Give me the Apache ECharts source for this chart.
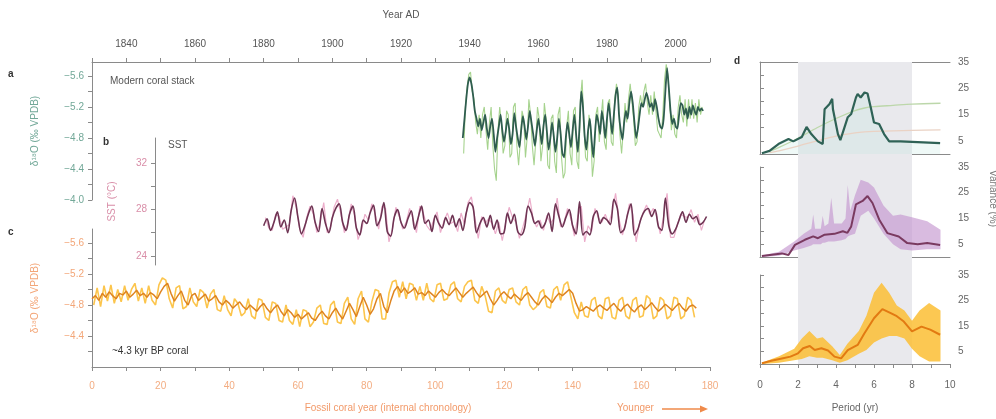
<!DOCTYPE html>
<html><head><meta charset="utf-8">
<script src="https://cdn.jsdelivr.net/npm/echarts@6/dist/echarts.min.js"></script>
<style>html,body{margin:0;padding:0;background:#fff}#c{width:996px;height:419px}</style>
</head><body><div id="c"></div>
<script>
// ---------- DATA ----------
// Panel a: modern coral stack d18O (Year AD), half-year steps
const aStart = 1938, aStep = 0.5;
const aSmooth = [-4.80,-5.05,-5.30,-5.50,-5.58,-5.50,-5.35,-5.15,-5.05,-4.95,-5.05,-4.90,-5.00,-5.10,-4.92,-4.80,-4.95,-5.05,-4.85,-4.62,
-4.80,-4.95,-5.10,-4.90,-4.75,-4.88,-5.05,-4.92,-4.72,-4.85,-5.12,-4.95,-4.80,-4.68,-4.90,-5.08,-4.95,-4.78,-4.95,-5.15,
-5.00,-4.85,-4.70,-4.88,-5.05,-4.90,-4.72,-4.95,-5.10,-4.88,-4.65,-4.80,-5.00,-4.82,-4.62,-4.80,-5.05,-4.85,-4.60,-4.55,
-4.80,-5.00,-4.85,-4.68,-4.90,-5.10,-4.85,-4.62,-4.95,-5.40,-5.20,-4.82,-4.65,-4.90,-5.05,-4.78,-4.55,-4.85,-5.10,-5.00,
-4.85,-5.15,-5.00,-4.80,-5.05,-5.25,-5.05,-4.85,-5.10,-5.35,-5.45,-5.10,-4.90,-4.78,-5.00,-5.15,-5.05,-5.25,-5.40,-5.25,
-5.00,-4.80,-4.92,-5.10,-5.25,-5.20,-5.30,-5.38,-5.30,-5.20,-5.25,-5.15,-5.30,-5.20,-5.05,-4.95,-4.92,-5.05,-5.40,-5.70,
-5.45,-5.15,-4.98,-5.05,-4.95,-4.92,-5.10,-5.25,-5.22,-5.10,-5.18,-5.05,-5.20,-5.10,-5.22,-5.15,-5.10,-5.20,-5.15,-5.18,-5.15];
const aRawStart = 1938.25;
const aRaw = [-4.60,-5.20,-5.45,-5.62,-5.65,-5.40,-5.30,-5.00,-4.85,-5.10,-4.80,-5.10,-5.20,-4.90,-4.65,-5.00,-5.20,-4.70,-4.40,-4.25,
-4.90,-5.20,-5.00,-4.60,-4.70,-5.15,-5.10,-4.55,-4.60,-5.20,-5.25,-4.70,-4.45,-4.75,-5.15,-5.05,-4.55,-4.80,-5.30,-5.10,
-4.70,-4.45,-4.75,-5.20,-5.05,-4.50,-4.70,-5.25,-5.05,-4.45,-4.40,-5.05,-5.10,-4.50,-4.35,-5.10,-5.20,-4.55,-4.28,-4.35,
-4.95,-5.15,-4.60,-4.45,-5.15,-5.20,-4.50,-4.40,-5.30,-5.55,-5.00,-4.55,-4.50,-5.10,-4.90,-4.30,-4.50,-5.10,-5.20,-4.75,
-5.05,-5.30,-4.75,-4.65,-5.25,-5.30,-4.75,-4.70,-5.30,-5.50,-5.35,-4.85,-4.60,-4.90,-5.25,-5.00,-5.30,-5.50,-5.50,-5.05,
-4.70,-4.75,-5.20,-5.35,-5.20,-5.40,-5.50,-5.25,-5.10,-5.35,-5.10,-5.40,-5.15,-4.90,-4.85,-4.80,-5.10,-5.55,-5.75,-5.60,
-5.25,-4.90,-5.10,-4.85,-4.80,-5.20,-5.35,-5.10,-5.00,-5.30,-4.95,-5.30,-5.05,-5.30,-5.05,-5.25,-5.00,-5.30,-5.10,-5.20];
// Panel b: SST (deg C), yearly
const bStart = 1880, bStep = 1;
const bSmooth = [26.6,27.2,26.2,26.9,27.8,26.5,27.1,26.0,27.9,29.0,
27.3,25.9,26.6,27.6,28.3,26.9,26.1,28.1,26.8,26.0,
27.3,28.1,28.5,26.9,26.2,27.6,28.3,26.4,25.8,27.1,
26.8,27.7,28.4,26.6,27.2,28.6,26.1,25.7,27.3,28.0,
26.9,26.4,27.2,27.9,26.3,27.3,28.3,26.8,27.1,26.1,
27.5,26.8,26.4,27.3,26.7,27.5,26.5,27.2,26.2,27.7,
28.6,28.2,26.0,26.8,27.3,26.5,27.5,26.3,27.1,25.9,
26.0,27.7,26.8,27.6,26.1,25.8,26.4,28.3,27.7,26.8,
27.0,26.4,26.8,27.7,26.1,28.5,27.4,26.5,27.3,28.0,
26.6,25.9,28.7,25.8,26.1,25.8,27.4,27.9,26.8,27.3,
27.1,26.7,28.9,28.1,26.0,26.3,27.6,28.5,25.8,26.3,
27.3,27.9,28.1,27.4,28.0,26.5,26.2,29.0,26.6,25.9,
26.3,27.1,27.8,26.9,27.6,27.2,27.4,26.7,26.9,27.4];
const bRawStart = 1880.5;
const bRaw = [27.3,26.4,26.2,27.6,27.4,26.3,26.5,26.7,29.2,28.2,
26.3,25.6,27.3,28.3,27.6,26.0,27.0,28.6,26.0,26.5,
28.2,28.9,27.6,26.0,26.8,28.5,27.5,25.4,26.2,27.6,
27.1,28.5,27.6,26.3,28.3,28.1,25.2,26.3,28.2,27.4,
26.3,26.9,28.1,27.2,26.0,28.3,27.7,26.6,26.2,27.1,
27.8,26.0,27.0,27.7,26.8,27.0,26.1,27.7,26.7,28.6,
29.1,27.3,25.5,27.4,26.8,27.2,26.8,25.9,26.9,25.3,
26.9,28.2,27.3,26.9,25.5,26.5,27.6,29.0,27.2,26.5,
27.1,26.2,27.5,26.8,27.2,29.0,26.5,26.9,28.1,27.2,
25.7,27.4,28.3,25.2,26.6,26.1,28.1,27.3,26.9,27.6,
26.8,27.8,29.4,27.2,25.8,26.9,28.5,27.6,25.2,26.9,
27.7,28.4,27.6,28.1,27.4,25.9,27.4,29.4,25.6,25.6,
26.7,27.6,27.4,27.3,28.0,26.9,27.6,26.2,27.2];
// Panel c: ~4.3 kyr BP fossil coral d18O (fossil coral year)
const cStart = 0, cStep = 1;
const cSmooth = [-4.88,-4.92,-4.86,-4.95,-4.90,-4.97,-4.92,-4.88,-4.95,-4.93,
-4.98,-4.90,-4.94,-4.99,-4.92,-4.95,-4.90,-4.96,-4.93,-4.88,
-4.97,-5.04,-5.08,-4.95,-4.85,-4.92,-4.98,-4.86,-4.80,-4.92,
-4.95,-4.86,-4.90,-4.94,-4.85,-4.88,-4.92,-4.84,-4.80,-4.86,
-4.82,-4.76,-4.80,-4.84,-4.78,-4.74,-4.80,-4.76,-4.72,-4.78,
-4.82,-4.75,-4.70,-4.76,-4.80,-4.72,-4.66,-4.74,-4.70,-4.64,
-4.68,-4.62,-4.66,-4.70,-4.63,-4.60,-4.67,-4.72,-4.66,-4.62,
-4.70,-4.76,-4.68,-4.62,-4.72,-4.82,-4.74,-4.65,-4.78,-4.90,
-4.80,-4.68,-4.75,-4.88,-4.95,-4.78,-4.70,-4.85,-4.98,-5.04,
-4.96,-5.02,-4.95,-4.98,-5.02,-4.94,-4.96,-4.92,-4.98,-4.94,
-4.90,-4.96,-5.00,-4.95,-4.92,-4.97,-5.02,-4.96,-4.90,-4.95,
-4.99,-5.03,-4.96,-4.90,-4.94,-4.98,-4.88,-4.80,-4.86,-4.93,
-4.97,-4.92,-4.88,-4.94,-4.90,-4.86,-4.92,-4.96,-4.90,-4.84,
-4.80,-4.87,-4.92,-4.88,-4.83,-4.90,-4.95,-4.92,-4.96,-5.00,
-4.95,-4.82,-4.72,-4.74,-4.78,-4.75,-4.72,-4.77,-4.80,-4.76,
-4.73,-4.78,-4.82,-4.76,-4.72,-4.78,-4.81,-4.75,-4.71,-4.77,
-4.80,-4.74,-4.78,-4.83,-4.77,-4.72,-4.76,-4.81,-4.77,-4.73,
-4.78,-4.82,-4.76,-4.72,-4.78,-4.80,-4.76];
const cRawStart = 0.5;
const cRaw = [-4.80,-5.02,-4.78,-5.05,-4.85,-5.06,-4.82,-5.00,-4.84,-5.05,
-4.86,-5.00,-5.08,-4.85,-5.02,-4.82,-5.05,-4.86,-4.80,-5.06,
-5.15,-5.12,-4.88,-4.76,-5.02,-5.05,-4.75,-4.78,-5.02,-4.84,
-4.78,-5.00,-4.96,-4.76,-4.94,-5.00,-4.74,-4.72,-4.92,-4.74,
-4.66,-4.88,-4.82,-4.66,-4.70,-4.88,-4.66,-4.62,-4.88,-4.86,
-4.64,-4.60,-4.84,-4.82,-4.60,-4.58,-4.80,-4.60,-4.55,-4.74,
-4.52,-4.74,-4.72,-4.52,-4.58,-4.76,-4.80,-4.56,-4.55,-4.80,
-4.85,-4.58,-4.56,-4.82,-4.90,-4.62,-4.55,-4.88,-4.98,-4.62,
-4.58,-4.84,-5.00,-4.98,-4.62,-4.62,-4.95,-5.10,-5.12,-4.90,
-5.10,-4.88,-5.08,-5.06,-4.86,-5.04,-4.86,-5.08,-4.88,-4.84,
-5.06,-5.08,-4.86,-4.88,-5.06,-5.10,-4.88,-4.84,-5.04,-5.10,
-5.12,-4.86,-4.82,-5.04,-4.92,-4.72,-4.70,-4.98,-5.02,-4.86,
-4.82,-5.00,-5.02,-4.84,-4.80,-5.00,-5.04,-4.80,-4.74,-4.78,
-4.96,-5.00,-4.78,-4.76,-5.00,-5.04,-4.86,-5.06,-5.10,-4.90,
-4.70,-4.62,-4.84,-4.66,-4.64,-4.86,-4.90,-4.66,-4.62,-4.88,
-4.90,-4.64,-4.62,-4.86,-4.90,-4.66,-4.62,-4.86,-4.90,-4.64,
-4.66,-4.92,-4.88,-4.62,-4.66,-4.90,-4.86,-4.62,-4.66,-4.90,
-4.88,-4.62,-4.66,-4.90,-4.86,-4.64];
// Panel d: spectra (period in yr, power)
const d1Period = [0.1,0.5,0.97,1.5,1.75,2.2,2.45,2.7,3.05,3.3,3.4,3.66,3.8,3.84,4.1,4.23,4.62,4.8,5.05,5.14,5.3,5.5,5.66,5.83,6.0,6.27,6.53,6.8,7.4,9.48];
const d1Power  = [0.3,1.2,3.8,5.7,4.8,6.5,10.3,7.6,4.8,3.8,17,19,21,17,7.6,5.3,14,15.2,21.5,22.8,21.5,23.4,23,17.7,12,11.4,7.6,4.8,4.8,4.1];
const d1SigPeriod = [0.5,1,2,3,4,5,5.5,6,7,8,9.5];
const d1Sig95 = [1,2.5,6,10,13.5,16.5,17.5,18,18.5,19,19.3];
const d1Sig90 = [0.5,1.2,3,5,6.8,8,8.4,8.6,8.8,9,9.2];
const d2Period = [0.1,1.15,1.5,1.84,2.36,2.8,3.05,3.4,3.92,4.36,4.6,4.8,5.05,5.4,5.66,5.92,6.27,6.7,7.3,7.75,8.3,8.8,9.48];
const d2Power  = [0.4,1.4,0.8,4.7,6.7,8,7.3,8.7,9,10,9.4,11.9,20.5,21.8,23.7,21,14.6,9.3,8,5.4,5,5.4,4.7];
const d2BandPeriod = [0.1,1.0,1.8,2.3,2.5,2.7,2.8,2.9,3.2,3.3,3.4,3.6,3.75,3.9,4.3,4.5,4.62,4.75,5.0,5.3,5.7,6.0,6.5,7.0,7.4,8.0,8.8,9.5];
const d2Upper = [0.6,2,6,9,10,11,16.5,11,11,16,12,13,23,13,13,15,28,18,24,30,29,27,20,16,16.5,15.5,13.9,10.6];
const d2Lower = [0,0.5,2.5,3.5,4,4.5,5,5,5,5.5,5.5,6,6,6,6.5,7,8,8.5,9,16,18,15,9,5,3,2.5,3,3];
const d3Period = [0.1,0.6,1.15,1.6,2.0,2.27,2.62,2.88,3.23,3.58,3.92,4.27,4.62,5.14,5.49,6.0,6.44,6.88,7.2,7.57,8.0,8.5,8.96,9.48];
const d3Power  = [0.3,1.3,2.2,2.9,4.2,6.2,7.1,5.5,6.2,5.3,2.9,2.2,5.5,7.5,12,18,21.6,20,18.8,16.7,12.8,14.7,13.5,11.5];
const d3BandPeriod = [0.1,1.0,1.8,2.2,2.6,3.0,3.3,3.8,4.2,4.6,5.2,5.6,6.0,6.4,6.8,7.2,7.6,8.0,8.4,8.9,9.5];
const d3Upper = [0.5,3,6,10,13,10,10.5,7,3.5,8,13,19,28,32,28,23,21,17,21,24,21];
const d3Lower = [0,0.5,1.5,2,3,2.5,2.5,1.5,0.5,1.5,4,5.5,8.5,10,11,11,10,6,3,1,1];
const shadeRange = [2, 8];
// Tick labels
const yearTicks = [1840,1860,1880,1900,1920,1940,1960,1980,2000];
const yearMinor = [1830,1840,1850,1860,1870,1880,1890,1900,1910,1920,1930,1940,1950,1960,1970,1980,1990,2000,2010];
const fossilTicks = [0,20,40,60,80,100,120,140,160,180];
const fossilMinor = [0,10,20,30,40,50,60,70,80,90,100,110,120,130,140,150,160,170,180];
const aLabels = [-5.6,-5.2,-4.8,-4.4,-4.0];
const aTicks = [-5.6,-5.4,-5.2,-5.0,-4.8,-4.6,-4.4,-4.2,-4.0];
const cLabels = [-5.6,-5.2,-4.8,-4.4];
const cTicks = [-5.6,-5.4,-5.2,-5.0,-4.8,-4.6,-4.4,-4.2];
const sstLabels = [24,28,32];
const sstTicks = [24,26,28,30,32];
const powLabels = [5,15,25,35];
const powTicks = [0,5,10,15,20,25,30,35];
const periodTicks = [0,2,4,6,8,10];
const periodMinor = [0,1,2,3,4,5,6,7,8,9,10];

// ---------- helpers ----------
const FONT = 'Liberation Sans, Arial, sans-serif';
const seq = (start, step, arr) => arr.map((v, i) => [start + i * step, v]);
const pairs = (xs, ys) => xs.map((x, i) => [x, ys[i]]);
const minus = v => (v < 0 ? '\u2212' : '') + Math.abs(v).toFixed(1);
const axisLineGrey = { lineStyle: { color: '#8a8a8a', width: 1 } };

function bandSeries(xi, yi, periods, upper, lower, color) {
  return {
    type: 'custom', xAxisIndex: xi, yAxisIndex: yi, silent: true, z: 1,
    data: periods.map((p, i) => [p, lower[i], upper[i]]),
    encode: { x: 0, y: [1, 2] },
    renderItem: (params, api) => {
      if (params.dataIndex !== 0) return null;
      const top = periods.map((p, i) => api.coord([p, upper[i]]));
      const bot = periods.map((p, i) => api.coord([p, lower[i]])).reverse();
      return { type: 'polygon', shape: { points: top.concat(bot) }, style: { fill: color } };
    }
  };
}

const chart = echarts.init(document.getElementById('c'), null, { renderer: 'canvas' });

const option = {
  animation: false,
  backgroundColor: '#ffffff',
  textStyle: { fontFamily: FONT },
  grid: [
    { left: 92, top: 62, width: 618, height: 138 },   // a
    { left: 92, top: 138, width: 618, height: 127 },  // b
    { left: 92, top: 229, width: 618, height: 138 },  // c
    { left: 760, top: 62, width: 190, height: 92 },   // d1
    { left: 760, top: 167, width: 190, height: 90 },  // d2
    { left: 760, top: 275, width: 190, height: 89 },  // d3
    { left: 760, top: 62, width: 190, height: 302 }   // shade
  ],
  xAxis: [
    { gridIndex: 0, type: 'value', position: 'top', min: 1830, max: 2010,
      axisLine: axisLineGrey, splitLine: { show: false },
      axisTick: { customValues: yearMinor, length: 4, lineStyle: { color: '#8a8a8a' } },
      axisLabel: { customValues: yearTicks, formatter: v => String(v), color: '#555', fontSize: 10, margin: 13, fontFamily: FONT },
      name: 'Year AD', nameLocation: 'middle', nameGap: 42,
      nameTextStyle: { color: '#555', fontSize: 10, fontFamily: FONT } },
    { gridIndex: 1, type: 'value', min: 1830, max: 2010, show: false },
    { gridIndex: 2, type: 'value', position: 'bottom', min: 0, max: 180,
      axisLine: axisLineGrey, splitLine: { show: false },
      axisTick: { customValues: fossilMinor, length: 4, lineStyle: { color: '#8a8a8a' } },
      axisLabel: { customValues: fossilTicks, formatter: v => String(v), color: '#f3ad82', fontSize: 10, margin: 14, fontFamily: FONT } },
    { gridIndex: 3, type: 'value', min: 0, max: 10, position: 'bottom',
      axisLine: axisLineGrey, axisTick: { show: false }, axisLabel: { show: false }, splitLine: { show: false } },
    { gridIndex: 3, type: 'value', min: 0, max: 10, position: 'top',
      axisLine: axisLineGrey, axisTick: { show: false }, axisLabel: { show: false }, splitLine: { show: false } },
    { gridIndex: 4, type: 'value', min: 0, max: 10, position: 'bottom',
      axisLine: axisLineGrey, axisTick: { show: false }, axisLabel: { show: false }, splitLine: { show: false } },
    { gridIndex: 5, type: 'value', min: 0, max: 10, position: 'bottom',
      axisLine: axisLineGrey, splitLine: { show: false },
      axisTick: { customValues: periodMinor, length: 4, lineStyle: { color: '#8a8a8a' } },
      axisLabel: { customValues: periodTicks, color: '#666', fontSize: 10, margin: 16, fontFamily: FONT } },
    { gridIndex: 6, type: 'value', min: 0, max: 10, show: false }
  ],
  yAxis: [
    { gridIndex: 0, type: 'value', inverse: true, min: -5.78, max: -4.0, position: 'left',
      axisLine: { show: true, lineStyle: { color: '#8a8a8a' } }, splitLine: { show: false },
      axisTick: { show: true, customValues: aTicks, length: 4, lineStyle: { color: '#8a8a8a' } },
      axisLabel: { customValues: aLabels, formatter: minus, color: '#72a898', fontSize: 10, margin: 8, fontFamily: FONT },
      name: '\u03b4\u00b9\u2078O (\u2030 VPDB)', nameLocation: 'middle', nameGap: 52, nameRotate: 90,
      nameTextStyle: { color: '#72a898', fontSize: 10, fontFamily: FONT } },
    { gridIndex: 1, type: 'value', min: 23.2, max: 34.2, position: 'left', offset: -63,
      axisLine: { show: true, lineStyle: { color: '#8a8a8a' } }, splitLine: { show: false },
      axisTick: { show: true, customValues: sstTicks, length: 4, lineStyle: { color: '#8a8a8a' } },
      axisLabel: { customValues: sstLabels, color: '#d98ea8', fontSize: 10, margin: 8, fontFamily: FONT },
      name: 'SST (\u00b0C)', nameLocation: 'middle', nameGap: 38, nameRotate: 90,
      nameTextStyle: { color: '#d98ea8', fontSize: 10, fontFamily: FONT } },
    { gridIndex: 2, type: 'value', inverse: true, min: -5.78, max: -4.0, position: 'left',
      axisLine: { show: true, lineStyle: { color: '#8a8a8a' } }, splitLine: { show: false },
      axisTick: { show: true, customValues: cTicks, length: 4, lineStyle: { color: '#8a8a8a' } },
      axisLabel: { customValues: cLabels, formatter: minus, color: '#f3a678', fontSize: 10, margin: 8, fontFamily: FONT },
      name: '\u03b4\u00b9\u2078O (\u2030 VPDB)', nameLocation: 'middle', nameGap: 52, nameRotate: 90,
      nameTextStyle: { color: '#f3a678', fontSize: 10, fontFamily: FONT } },
    { gridIndex: 3, type: 'value', min: 0, max: 35, position: 'right',
      axisLine: { show: true, lineStyle: { color: '#8a8a8a' } }, splitLine: { show: false },
      axisTick: { show: true, customValues: powTicks, length: 4, lineStyle: { color: '#8a8a8a' } },
      axisLabel: { customValues: powLabels, color: '#666', fontSize: 10, margin: 8, fontFamily: FONT } },
    { gridIndex: 4, type: 'value', min: 0, max: 35, position: 'right',
      axisLine: { show: true, lineStyle: { color: '#8a8a8a' } }, splitLine: { show: false },
      axisTick: { show: true, customValues: powTicks, length: 4, lineStyle: { color: '#8a8a8a' } },
      axisLabel: { customValues: powLabels, color: '#666', fontSize: 10, margin: 8, fontFamily: FONT } },
    { gridIndex: 5, type: 'value', min: 0, max: 35, position: 'right',
      axisLine: { show: true, lineStyle: { color: '#8a8a8a' } }, splitLine: { show: false },
      axisTick: { show: true, customValues: powTicks, length: 4, lineStyle: { color: '#8a8a8a' } },
      axisLabel: { customValues: powLabels, color: '#666', fontSize: 10, margin: 8, fontFamily: FONT } },
    { gridIndex: 6, type: 'value', min: 0, max: 1, show: false }
  ],
  series: [
    // shaded band in panel d
    { type: 'line', xAxisIndex: 7, yAxisIndex: 6, data: [[0, 0]], symbol: 'none', z: 0,
      lineStyle: { opacity: 0 }, silent: true,
      markArea: { silent: true, itemStyle: { color: '#e9e9ed' },
        data: [[{ xAxis: shadeRange[0] }, { xAxis: shadeRange[1] }]] } },
    // a
    { type: 'line', xAxisIndex: 0, yAxisIndex: 0, data: seq(aRawStart, aStep, aRaw), symbol: 'none',
      lineStyle: { color: '#a6d38e', width: 1.1 } },
    { type: 'line', xAxisIndex: 0, yAxisIndex: 0, data: seq(aStart, aStep, aSmooth), symbol: 'none', smooth: 0.2,
      lineStyle: { color: '#2f5d4f', width: 1.8 } },
    // b
    { type: 'line', xAxisIndex: 1, yAxisIndex: 1, data: seq(bRawStart, bStep, bRaw), symbol: 'none',
      lineStyle: { color: '#ecaecb', width: 1.2 } },
    { type: 'line', xAxisIndex: 1, yAxisIndex: 1, data: seq(bStart, bStep, bSmooth), symbol: 'none', smooth: 0.3,
      lineStyle: { color: '#6e3453', width: 1.6 } },
    // c
    { type: 'line', xAxisIndex: 2, yAxisIndex: 2, data: seq(cRawStart, cStep, cRaw), symbol: 'none',
      lineStyle: { color: '#fcc54c', width: 1.6 } },
    { type: 'line', xAxisIndex: 2, yAxisIndex: 2, data: seq(cStart, cStep, cSmooth), symbol: 'none',
      lineStyle: { color: '#de8420', width: 1.5 } },
    // d1
    { type: 'line', xAxisIndex: 3, yAxisIndex: 3, data: pairs(d1SigPeriod, d1Sig95), symbol: 'none', smooth: 0.3,
      lineStyle: { color: '#bcd7aa', width: 1.3 } },
    { type: 'line', xAxisIndex: 3, yAxisIndex: 3, data: pairs(d1SigPeriod, d1Sig90), symbol: 'none', smooth: 0.3,
      lineStyle: { color: '#ead2c4', width: 1.3 } },
    { type: 'line', xAxisIndex: 3, yAxisIndex: 3, data: pairs(d1Period, d1Power), symbol: 'none',
      lineStyle: { color: '#2f6256', width: 2.2 }, areaStyle: { color: 'rgba(190,230,222,0.35)' } },
    // d2
    bandSeries(5, 4, d2BandPeriod, d2Upper, d2Lower, 'rgba(196,150,208,0.65)'),
    { type: 'line', xAxisIndex: 5, yAxisIndex: 4, data: pairs(d2Period, d2Power), symbol: 'none', z: 3,
      lineStyle: { color: '#7a3a60', width: 2 } },
    // d3
    bandSeries(6, 5, d3BandPeriod, d3Upper, d3Lower, 'rgba(251,190,52,0.85)'),
    { type: 'line', xAxisIndex: 6, yAxisIndex: 5, data: pairs(d3Period, d3Power), symbol: 'none', z: 3,
      lineStyle: { color: '#e27a12', width: 2 } }
  ],
  graphic: [
    { type: 'text', left: 8, top: 69, style: { text: 'a', font: 'bold 10px ' + FONT, fill: '#333' } },
    { type: 'text', left: 103, top: 137, style: { text: 'b', font: 'bold 10px ' + FONT, fill: '#333' } },
    { type: 'text', left: 8, top: 227, style: { text: 'c', font: 'bold 10px ' + FONT, fill: '#333' } },
    { type: 'text', left: 734, top: 56, style: { text: 'd', font: 'bold 10px ' + FONT, fill: '#333' } },
    { type: 'text', left: 110, top: 76, style: { text: 'Modern coral stack', font: '10px ' + FONT, fill: '#555' } },
    { type: 'text', left: 168, top: 140, style: { text: 'SST', font: '10px ' + FONT, fill: '#555' } },
    { type: 'text', left: 112, top: 346, style: { text: '~4.3 kyr BP coral', font: '10px ' + FONT, fill: '#333' } },
    { type: 'text', x: 388, y: 403, style: { text: 'Fossil coral year (internal chronology)', font: '10px ' + FONT, fill: '#f29a6a', textAlign: 'center' } },
    { type: 'text', x: 617, y: 403, style: { text: 'Younger', font: '10px ' + FONT, fill: '#f29a6a' } },
    { type: 'line', shape: { x1: 662, y1: 409, x2: 702, y2: 409 }, style: { stroke: '#ef8a4a', lineWidth: 1.5 } },
    { type: 'polygon', shape: { points: [[708, 409], [700, 405.5], [700, 412.5]] }, style: { fill: '#ef8a4a' } },
    { type: 'text', x: 855, y: 403, style: { text: 'Period (yr)', font: '10px ' + FONT, fill: '#666', textAlign: 'center' } },
    { type: 'text', left: 988, top: 170, style: { text: 'Variance (%)', font: '10px ' + FONT, fill: '#777' }, rotation: -Math.PI / 2 }
  ]
};
chart.setOption(option);
</script></body></html>
